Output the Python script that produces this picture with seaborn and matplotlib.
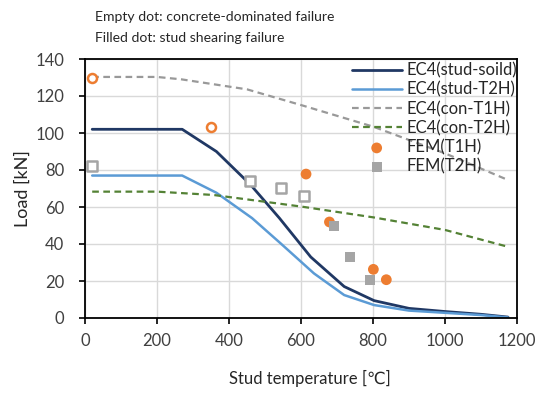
import matplotlib
matplotlib.use("Agg")
import matplotlib.pyplot as plt
import seaborn as sns
import pandas as pd

sns.set_theme(style="white")
plt.rcParams['font.family'] = ['Lato', 'DejaVu Sans']

# EC4 curves
stud_solid_T = [20, 270, 365, 460, 540, 627, 720, 803, 900, 1000, 1100, 1175]
stud_solid_P = [102, 102, 90, 72, 54, 33, 17, 9.4, 5.2, 3.5, 2.0, 0.5]
stud_t2h_T = [20, 270, 365, 464, 543, 636, 720, 803, 900, 1000, 1100, 1175]
stud_t2h_P = [77, 77, 67.7, 54, 40.4, 24.1, 12.4, 7, 4, 2.8, 1.6, 0.3]
con_t1h_T = [20, 200, 268, 450, 602, 801, 1000, 1175]
con_t1h_P = [130.3, 130.3, 129, 123.6, 115, 103.4, 89, 74.6]
con_t2h_T = [20, 200, 357, 602, 801, 1000, 1175]
con_t2h_P = [68.3, 68.3, 66.5, 60.2, 54.4, 47.6, 38.5]

# FEM results
t1h_empty_T = [20, 351]
t1h_empty_P = [129.6, 103.2]
t1h_fill_T = [614, 679, 801, 837]
t1h_fill_P = [77.8, 51.9, 26.3, 20.7]
t2h_empty_T = [20, 457, 545, 608]
t2h_empty_P = [82.3, 74, 70.3, 65.9]
t2h_fill_T = [692, 736, 792]
t2h_fill_P = [49.7, 33.1, 20.5]

xticks = [0, 200, 400, 600, 800, 1000, 1200]
yticks = [0, 20, 40, 60, 80, 100, 120, 140]

ORANGE = "#ED7D31"
GREY = "#A5A5A5"

fig = plt.figure(figsize=(5.35, 3.94), dpi=100)
ax = fig.add_axes([85/535, 1-318/394, (517-85)/535, (318-59)/394])

sns.lineplot(x=stud_solid_T, y=stud_solid_P, ax=ax, color="#203864", lw=2.0, label="EC4(stud-soild)")
sns.lineplot(x=stud_t2h_T, y=stud_t2h_P, ax=ax, color="#5B9BD5", lw=1.8, label="EC4(stud-T2H)")
sns.lineplot(x=con_t1h_T, y=con_t1h_P, ax=ax, color="#999999", lw=1.6, ls=(0, (3, 2)), label="EC4(con-T1H)")
sns.lineplot(x=con_t2h_T, y=con_t2h_P, ax=ax, color="#548235", lw=1.6, ls=(0, (3, 2)), label="EC4(con-T2H)")

sns.scatterplot(x=t1h_fill_T, y=t1h_fill_P, ax=ax, color=ORANGE, marker="o", s=60, edgecolor="none", label="FEM(T1H)", zorder=5)
sns.scatterplot(x=t2h_fill_T, y=t2h_fill_P, ax=ax, color=GREY, marker="s", s=55, edgecolor="none", label="FEM(T2H)", zorder=5)
ax.scatter(t1h_empty_T, t1h_empty_P, marker="o", s=42, facecolor="white", edgecolor=ORANGE, linewidth=1.8, zorder=5)
ax.scatter(t2h_empty_T, t2h_empty_P, marker="s", s=42, facecolor="white", edgecolor=GREY, linewidth=1.8, zorder=5)

ax.set_xlim(0, 1200)
ax.set_ylim(0, 140)
ax.set_xticks(xticks)
ax.set_yticks(yticks)
ax.grid(True, color="#D9D9D9", lw=1)
ax.set_axisbelow(True)
for sp in ax.spines.values():
    sp.set_color("black")
    sp.set_linewidth(1.3)
ax.tick_params(axis="both", which="both", direction="out", length=4, width=1.2,
               color="black", labelsize=12, labelcolor="#404040", left=True, bottom=True)
ax.tick_params(axis="x", pad=7)
ax.tick_params(axis="y", pad=11)

ax.set_xlabel("Stud temperature [℃]", fontsize=12, color="#262626")
ax.xaxis.set_label_coords(0.52, -0.2)
ax.set_ylabel("Load [kN]", fontsize=13, color="#262626")
ax.yaxis.set_label_coords(-0.125, 0.5)

leg = ax.legend(loc="upper right", bbox_to_anchor=(1.02, 1.018), frameon=False, fontsize=12,
                handlelength=3.0, handletextpad=0.3, labelspacing=0.18, borderaxespad=0.1)
for t in leg.get_texts():
    t.set_color("#262626")

fig.text(95/535, 1-17/394, "Empty dot: concrete-dominated failure", fontsize=10.1, color="#262626", va="center")
fig.text(95/535, 1-38/394, "Filled dot: stud shearing failure", fontsize=10.1, color="#262626", va="center")

fig.savefig("out.png", dpi=100)
